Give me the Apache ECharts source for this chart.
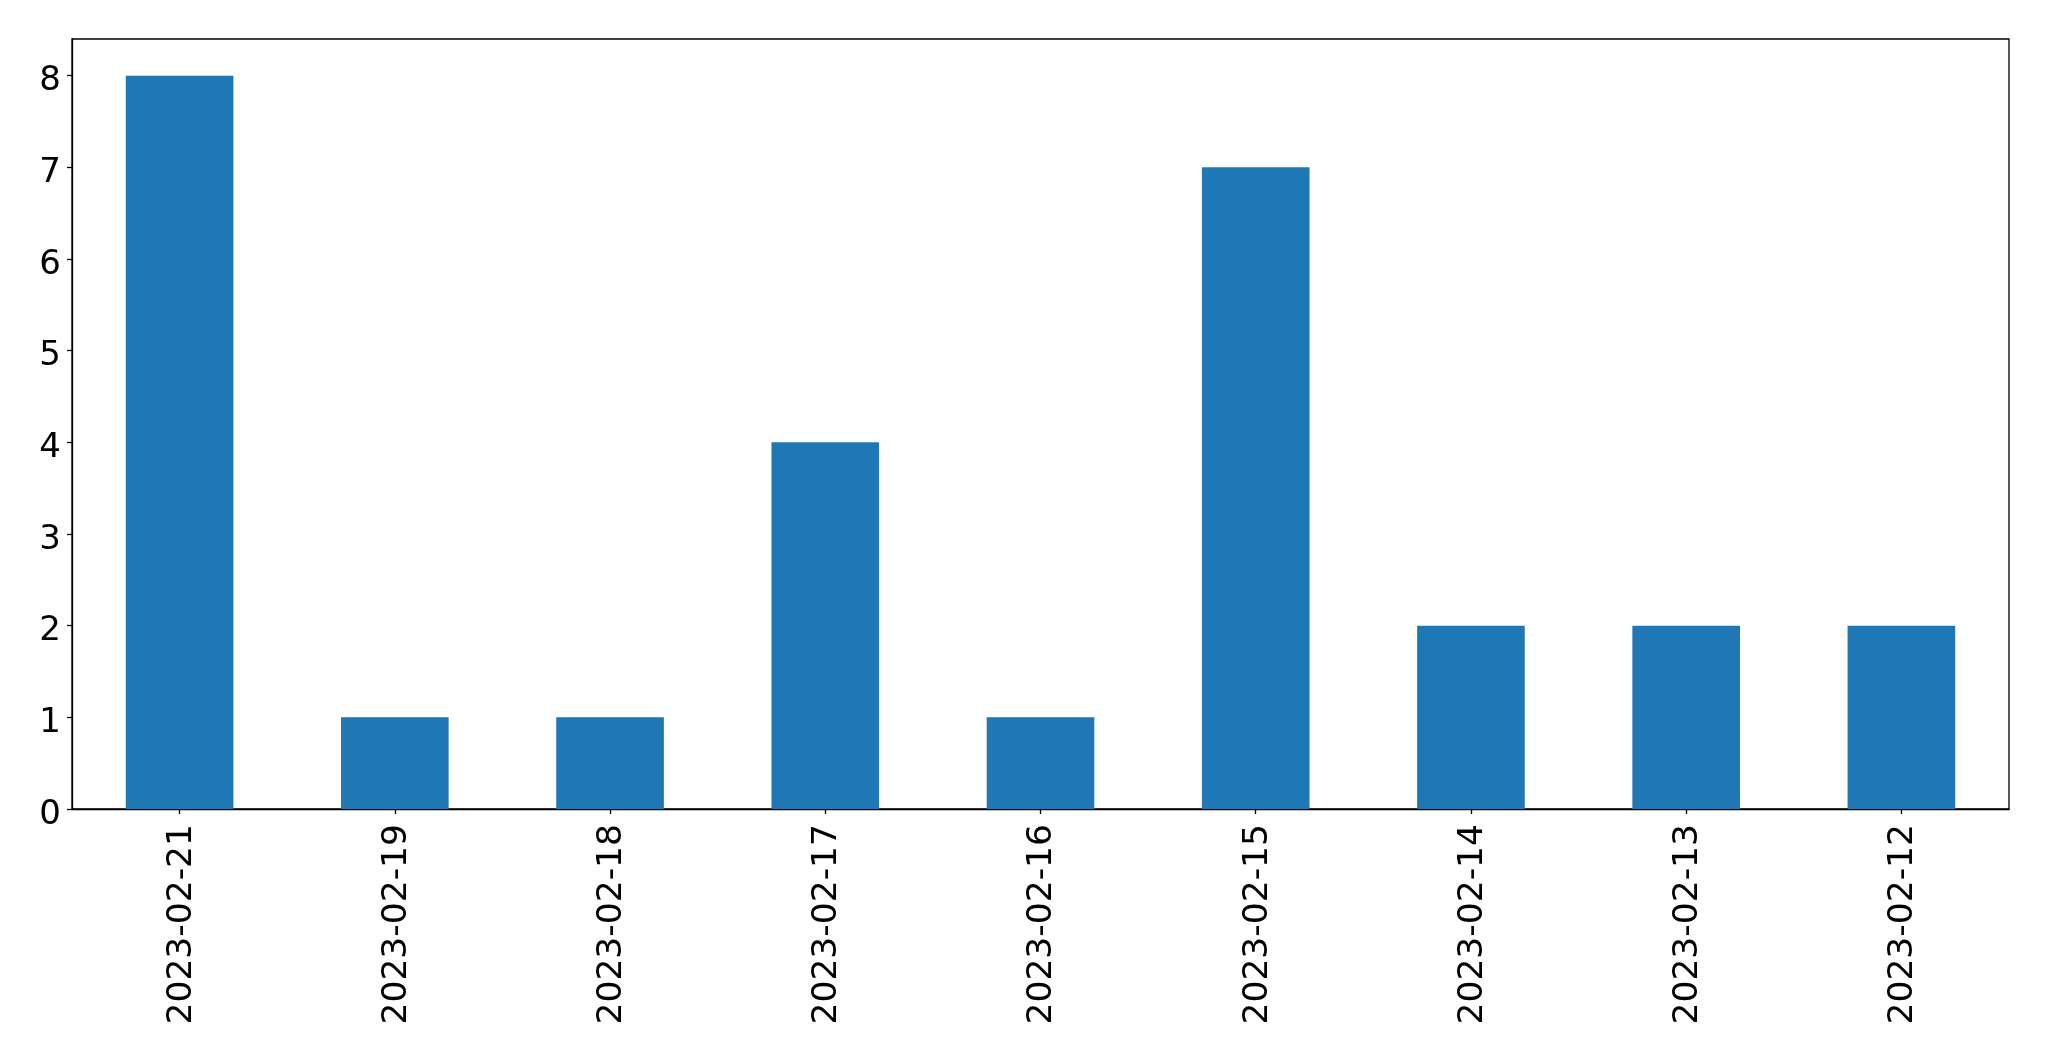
<!DOCTYPE html>
<html>
<head>
<meta charset="utf-8">
<script src="https://cdn.jsdelivr.net/npm/echarts@6/dist/echarts.min.js"></script>
<style>
html,body{margin:0;padding:0;background:#fff;}
#chart{width:2049px;height:1061px;}
</style>
</head>
<body>
<div id="chart"></div>
<script>
const categories = ['2023-02-21','2023-02-19','2023-02-18','2023-02-17','2023-02-16','2023-02-15','2023-02-14','2023-02-13','2023-02-12'];
const counts = [8, 1, 1, 4, 1, 7, 2, 2, 2];
const yTicks = [0, 1, 2, 3, 4, 5, 6, 7, 8];
const yMax = 8.4;

const chart = echarts.init(document.getElementById('chart'), null, {renderer: 'canvas'});
const fontFamily = 'DejaVu Sans';
chart.setOption({
  animation: false,
  backgroundColor: '#ffffff',
  grid: {
    left: 72, top: 39, right: 40, bottom: 252,
    containLabel: false,
    outerBoundsMode: 'none',
    show: true,
    borderColor: '#000000',
    borderWidth: 1.3,
    backgroundColor: 'transparent'
  },
  xAxis: {
    type: 'category',
    data: categories,
    boundaryGap: true,
    axisLine: {show: true, lineStyle: {color: '#000', width: 1.3}},
    axisTick: {show: true, alignWithLabel: true, length: 5, lineStyle: {color: '#000', width: 1.3}},
    axisLabel: {
      rotate: 90, margin: 15, color: '#000',
      fontFamily: fontFamily, fontSize: 34.5, interval: 0,
      formatter: function (v) { return '{c|' + v + '}'; },
      rich: {
        c: {fontFamily: fontFamily, fontSize: 34.5, color: '#000', padding: [4, 0, 0, 0]}
      }
    },
    splitLine: {show: false}
  },
  yAxis: {
    type: 'value',
    min: 0, max: yMax, interval: 1,
    axisLine: {show: true, lineStyle: {color: '#000', width: 1.3}},
    axisTick: {show: true, length: 5, customValues: yTicks, lineStyle: {color: '#000', width: 1.3}},
    axisLabel: {
      customValues: yTicks, margin: 11, color: '#000',
      fontFamily: fontFamily, fontSize: 34,
      formatter: function (v) { return '{v|' + v + '}'; },
      rich: {
        v: {fontFamily: fontFamily, fontSize: 34, color: '#000', padding: [12, 0, 0, 0]}
      }
    },
    splitLine: {show: false}
  },
  series: [{
    type: 'bar',
    data: counts,
    barWidth: '50%',
    itemStyle: {color: '#1f77b4'}
  }]
});
</script>
</body>
</html>
